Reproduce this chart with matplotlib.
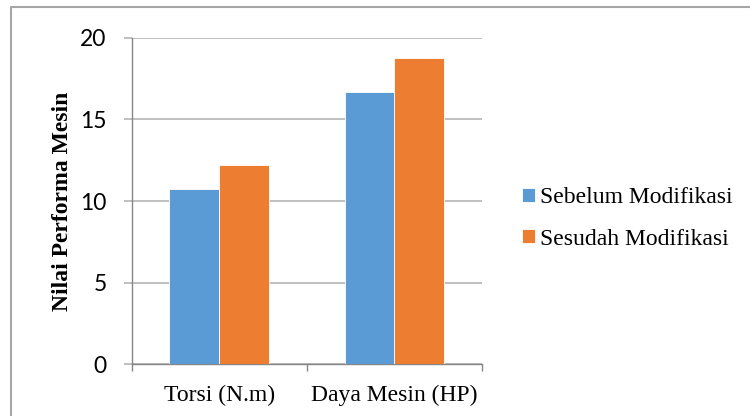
import matplotlib
matplotlib.use("Agg")
import matplotlib.pyplot as plt
import numpy as np
from matplotlib.lines import Line2D

categories = ["Torsi (N.m)", "Daya Mesin (HP)"]
series_names = ["Sebelum Modifikasi", "Sesudah Modifikasi"]
sebelum = [10.72, 16.65]
sesudah = [12.22, 18.73]
yticks = [0, 5, 10, 15, 20]

blue = "#5B9BD5"
orange = "#ED7D31"
W, H = 750, 416
fig = plt.figure(figsize=(7.5, 4.16), dpi=100)
ax = fig.add_axes([131.7 / W, 1 - 364.3 / H, (482 - 131.7) / W, (364.3 - 37.7) / H])

x = np.arange(len(categories))
bw = 0.285
ax.bar(x - bw / 2, sebelum, bw, color=blue, label=series_names[0], zorder=3, edgecolor="white", linewidth=0.6)
ax.bar(x + bw / 2, sesudah, bw, color=orange, label=series_names[1], zorder=3, edgecolor="white", linewidth=0.6)

ax.set_xlim(-0.5, len(categories) - 0.5)
ax.set_ylim(0, 20)
ax.set_yticks(yticks)
ax.set_yticklabels([str(v) for v in yticks], fontfamily="Lato", fontsize=16.5)
ax.yaxis.grid(True, color="#BFBFBF", linewidth=1.4, zorder=0)
ax.set_axisbelow(True)
ax.tick_params(axis="y", length=6, color="#BFBFBF", width=1.4, pad=12)

ax.set_xticks(x)
ax.set_xticklabels(categories, fontfamily="Liberation Serif", fontsize=17)
ax.set_xticks([-0.5, 0.5, 1.5], minor=True)
ax.tick_params(axis="x", which="major", length=0, pad=15)
ax.tick_params(axis="x", which="minor", length=5, color="#868686", width=1)

for s in ["top", "right"]:
    ax.spines[s].set_visible(False)
ax.spines["left"].set_color("#868686")
ax.spines["bottom"].set_color("#868686")
ax.spines["left"].set_linewidth(1)
ax.spines["bottom"].set_linewidth(1)

ax.set_ylabel("Nilai Performa Mesin", fontfamily="Liberation Serif", fontweight="bold", fontsize=17)
ax.yaxis.set_label_coords((73 - 131.7) / (482 - 131.7), 0.5)

leg = fig.legend(loc="center left", bbox_to_anchor=(501 / W, 1 - 218.5 / H), frameon=False,
                 prop={"family": "Liberation Serif", "size": 17},
                 handlelength=0.55, handleheight=0.55, handletextpad=0.2, labelspacing=0.85)

fig.add_artist(Line2D([11 / W, 11 / W, 1.0], [0.0, 1 - 7 / H, 1 - 7 / H],
                      transform=fig.transFigure, color="#A6A6A6", linewidth=1.5))

fig.savefig("out.png", dpi=100)
